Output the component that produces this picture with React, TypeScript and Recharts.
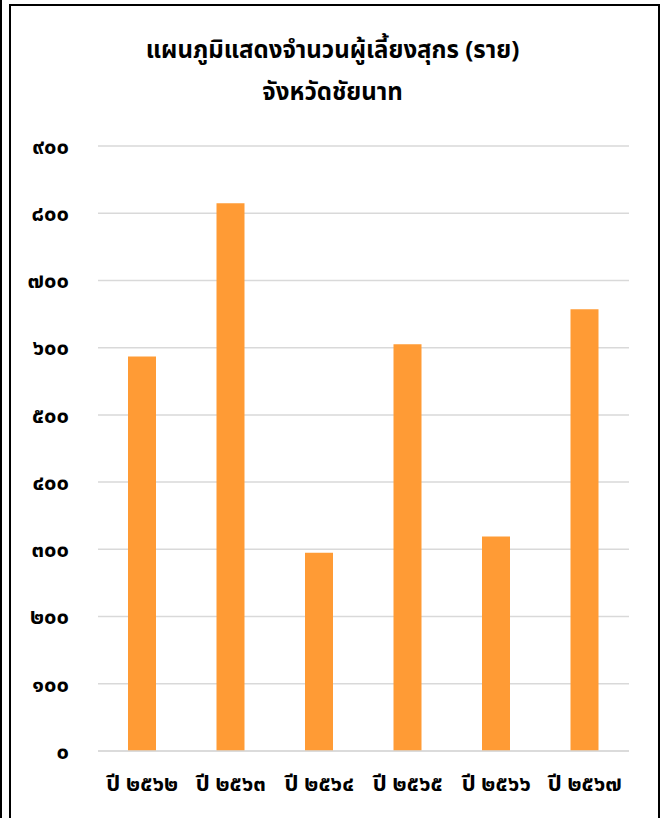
import { BarChart, Bar, XAxis, YAxis, CartesianGrid } from 'recharts';

// ปี พ.ศ. และจำนวนผู้เลี้ยงสุกร (ราย)
const years = ['ปี ๒๕๖๒', 'ปี ๒๕๖๓', 'ปี ๒๕๖๔', 'ปี ๒๕๖๕', 'ปี ๒๕๖๖', 'ปี ๒๕๖๗'];
const farmers = [587, 815, 295, 605, 319, 657];
const yTicks = [0, 100, 200, 300, 400, 500, 600, 700, 800, 900];

const data = years.map((year, i) => ({ year, farmers: farmers[i] }));

const thaiDigits = '๐๑๒๓๔๕๖๗๘๙';
const toThai = (n: number) => String(n).replace(/\d/g, (d) => thaiDigits[Number(d)]);

const font = '"Noto Sans", "Noto Sans Thai", Tahoma, sans-serif';

export default function App() {
  return (
    <div style={{ position: 'absolute', left: 0, top: 0, width: 665, height: 818, background: '#fff', overflow: 'hidden', fontFamily: font }}>
      <div style={{ position: 'absolute', left: 0, top: 0, width: 2, height: 818, background: '#000' }} />
      <div style={{ position: 'absolute', left: 9, top: 4, width: 647, height: 830, border: '2px solid #000' }} />
      <div style={{ position: 'absolute', left: 0, top: 28, width: 665, textAlign: 'center', fontSize: 24, fontWeight: 700, lineHeight: '42px', color: '#000' }}>
        แผนภูมิแสดงจำนวนผู้เลี้ยงสุกร (ราย)
        <br />
        จังหวัดชัยนาท
      </div>
      <div style={{ position: 'absolute', left: 0, top: 0 }}>
        <BarChart width={665} height={818} data={data} margin={{ top: 146, right: 36, bottom: 37, left: 0 }}>
          <CartesianGrid vertical={false} stroke="#d9d9d9" strokeWidth={1.5} />
          <XAxis
            dataKey="year"
            height={30}
            axisLine={{ stroke: '#d9d9d9', strokeWidth: 1.5 }}
            tickLine={false}
            tick={{ fill: '#000', fontSize: 22, fontWeight: 700, fontFamily: font }}
            tickMargin={18}
            interval={0}
          />
          <YAxis
            width={98}
            domain={[0, 900]}
            ticks={yTicks}
            tickFormatter={toThai}
            axisLine={false}
            tickLine={false}
            tickMargin={23}
            tick={{ fill: '#000', fontSize: 22, fontWeight: 700, fontFamily: font }}
          />
          <Bar dataKey="farmers" fill="#ff9b35" barSize={28} isAnimationActive={false} />
        </BarChart>
      </div>
    </div>
  );
}
